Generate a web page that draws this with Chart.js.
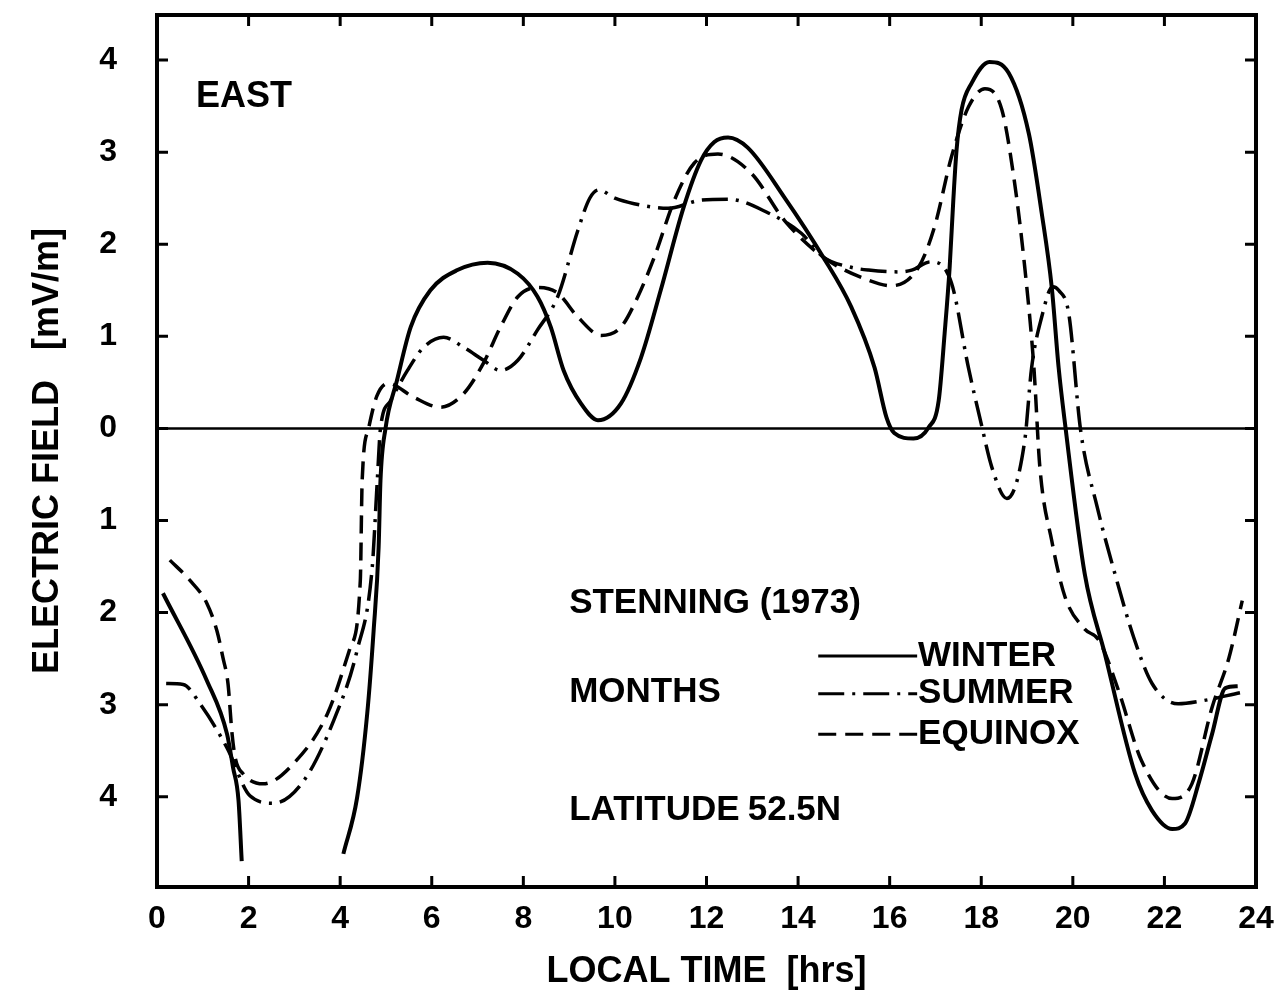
<!DOCTYPE html>
<html>
<head>
<meta charset="utf-8">
<script src="https://cdn.jsdelivr.net/npm/chart.js@4.4.1/dist/chart.umd.min.js"></script>
<style>
  html, body { margin: 0; padding: 0; background: #fff; }
  #wrap { width: 1286px; height: 1004px; }
</style>
</head>
<body>
<div id="wrap"><canvas id="chart" width="1286" height="1004"></canvas></div>
<script>
// axis ticks
const xTicks = [0, 2, 4, 6, 8, 10, 12, 14, 16, 18, 20, 22, 24];
const yTicks = [-4, -3, -2, -1, 0, 1, 2, 3, 4];

// WINTER (solid) - null breaks the curve between 2 and 4 hrs
const winterTime = [0.13, 1.09, 1.53, 1.66, 1.78, 1.85, 3.0,
  4.07, 4.37, 4.59, 4.73, 4.84, 4.88, 4.99, 5.24, 5.54, 5.97, 6.56, 7.22, 7.88, 8.31, 8.6, 8.88,
  9.26, 9.63, 10.13, 10.57, 11.0, 11.5, 11.88, 12.17, 12.47, 12.9, 13.7, 14.55, 15.16, 15.67,
  15.93, 16.1, 16.52, 16.85, 17.07, 17.2, 17.31, 17.39, 17.46, 17.57, 17.79, 18.18, 18.6, 19.04,
  19.32, 19.54, 19.69, 19.83, 20.26, 20.7, 21.36, 21.73, 22.17, 22.45, 22.76, 23.04, 23.33, 23.6];
const winterField = [-1.79, -2.74, -3.32, -3.68, -4.04, -4.7, null,
  -4.62, -4.01, -3.1, -2.2, -1.29, -0.57, 0.0, 0.52, 1.1, 1.5, 1.72, 1.8, 1.68, 1.43, 1.1, 0.63,
  0.27, 0.09, 0.27, 0.77, 1.5, 2.4, 2.91, 3.11, 3.16, 3.05, 2.51, 1.86, 1.32, 0.66,
  0.12, -0.05, -0.11, 0.01, 0.3, 1.03, 1.75, 2.48, 3.02, 3.46, 3.75, 3.98, 3.86, 3.2,
  2.34, 1.53, 0.66, 0.05, -1.58, -2.45, -3.75, -4.15, -4.35, -4.29, -3.83, -3.32, -2.82, -2.8];

// SUMMER (dash-dot)
const summerTime = [0.2, 0.57, 0.94, 1.53, 2.03, 2.55, 3.2, 3.86, 4.37, 4.7, 4.81, 4.88, 5.1,
  5.47, 5.82, 6.26, 6.7, 7.13, 7.5, 7.88, 8.31, 8.75, 9.19, 9.45, 9.65, 10.0, 10.42, 11.16,
  11.88, 12.47, 13.35, 14.07, 14.55, 15.16, 15.54, 16.2, 16.48, 16.9, 17.35, 17.72, 18.0,
  18.23, 18.56, 18.95, 19.1, 19.32, 19.56, 19.69, 19.91, 20.17, 20.53, 20.92, 21.33, 21.73,
  22.3, 22.8, 23.65];
const summerField = [-2.77, -2.78, -2.99, -3.47, -3.99, -4.07, -3.83, -3.17, -2.41, -1.51, -0.57, 0.0, 0.3,
  0.63, 0.88, 0.99, 0.88, 0.74, 0.63, 0.74, 1.07, 1.43, 2.15, 2.5, 2.59, 2.5, 2.44, 2.39,
  2.48, 2.49, 2.34, 2.12, 1.86, 1.75, 1.72, 1.70, 1.72, 1.81, 1.58, 0.66, 0.05,
  -0.42, -0.76, -0.13, 0.66, 1.21, 1.54, 1.5, 1.25, -0.02, -0.85, -1.58, -2.27, -2.77,
  -2.99, -2.96, -2.87];

// EQUINOX (dashed)
const equinoxTime = [0.28, 0.72, 1.09, 1.31, 1.44, 1.55, 1.64, 1.71, 1.88, 2.32, 2.98, 3.72, 4.22, 4.44,
  4.48, 4.62, 4.8, 5.05, 5.6, 6.19, 6.7, 7.13, 7.5, 7.88, 8.31, 8.75, 9.19, 9.7, 10.13, 10.5, 10.86,
  11.3, 11.73, 12.25, 12.98, 13.7, 14.55, 15.54, 16.04, 16.63, 16.98, 17.35, 17.72, 18.08, 18.45,
  18.73, 18.95, 19.15, 19.28, 19.54, 19.83, 20.26, 20.57, 21.0, 21.5, 22.17, 22.6, 23.04, 23.41, 23.7];
const equinoxField = [-1.43, -1.65, -1.9, -2.2, -2.49, -2.77, -3.32, -3.58, -3.75, -3.86, -3.64, -3.1, -2.38, -1.65,
  -0.57, 0.0, 0.35, 0.49, 0.34, 0.23, 0.38, 0.71, 1.1, 1.43, 1.53, 1.47, 1.21, 1.01, 1.1, 1.43, 1.86,
  2.48, 2.88, 2.98, 2.77, 2.26, 1.86, 1.61, 1.55, 1.75, 2.19, 2.95, 3.49, 3.69, 3.46,
  2.66, 1.75, 0.66, -0.42, -1.22, -1.83, -2.18, -2.3, -2.85, -3.61, -4.02, -3.86, -3.03, -2.49, -1.87];

const zeroTime = [0, 24];
const zeroField = [0, 0];

const pts = (xs, ys) => xs.map((t, i) => ({ x: t, y: ys[i] }));

const FONT = "'Liberation Sans', Arial, sans-serif";
const SUMMER_DASH = [26, 8, 3, 8];
const EQUINOX_DASH = [18, 9];

const lineStyle = {
  borderColor: '#000',
  borderWidth: 3.5,
  pointRadius: 0,
  fill: false,
  cubicInterpolationMode: 'monotone',
  spanGaps: false,
};

// frame, inward ticks on all four sides
const frame = {
  id: 'frame',
  afterDatasetsDraw(chart) {
    const { ctx, chartArea: a, scales: { x, y } } = chart;
    ctx.save();
    ctx.strokeStyle = '#000';
    ctx.setLineDash([]);
    ctx.lineWidth = 4;
    ctx.strokeRect(a.left, a.top, a.right - a.left, a.bottom - a.top);
    ctx.lineWidth = 3;
    const len = 11;
    ctx.beginPath();
    xTicks.forEach(v => {
      const px = x.getPixelForValue(v);
      ctx.moveTo(px, a.bottom); ctx.lineTo(px, a.bottom - len);
      ctx.moveTo(px, a.top); ctx.lineTo(px, a.top + len);
    });
    yTicks.forEach(v => {
      const py = y.getPixelForValue(v);
      ctx.moveTo(a.left, py); ctx.lineTo(a.left + len, py);
      ctx.moveTo(a.right, py); ctx.lineTo(a.right - len, py);
    });
    ctx.stroke();
    ctx.restore();
  }
};

// text labels and the line key inside the plot
const notes = {
  id: 'notes',
  afterDraw(chart) {
    const { ctx, scales: { x, y } } = chart;
    const put = (txt, tx, ty, size) => {
      ctx.font = 'bold ' + size + 'px ' + FONT;
      ctx.fillText(txt, x.getPixelForValue(tx), y.getPixelForValue(ty));
    };
    ctx.save();
    ctx.fillStyle = '#000';
    ctx.textAlign = 'left';
    ctx.textBaseline = 'middle';
    put('EAST', 0.85, 3.6, 36);
    put('STENNING (1973)', 9.0, -1.9, 35);
    put('MONTHS', 9.0, -2.87, 35);
    put('LATITUDE', 9.0, -4.15, 35);
    put('52.5N', 12.9, -4.15, 35);

    const key = [
      ['WINTER', -2.47, []],
      ['SUMMER', -2.88, SUMMER_DASH],
      ['EQUINOX', -3.32, EQUINOX_DASH],
    ];
    key.forEach(([label, ky, dash]) => {
      const py = y.getPixelForValue(ky);
      ctx.lineWidth = 3;
      ctx.setLineDash(dash);
      ctx.beginPath();
      ctx.moveTo(x.getPixelForValue(14.44), py);
      ctx.lineTo(x.getPixelForValue(16.6), py);
      ctx.stroke();
      ctx.setLineDash([]);
      put(label, 16.62, ky, 35);
    });
    ctx.restore();
  }
};

new Chart(document.getElementById('chart'), {
  type: 'line',
  data: {
    datasets: [
      { label: 'WINTER', data: pts(winterTime, winterField), ...lineStyle, borderWidth: 4 },
      { label: 'SUMMER', data: pts(summerTime, summerField), ...lineStyle, borderDash: SUMMER_DASH },
      { label: 'EQUINOX', data: pts(equinoxTime, equinoxField), ...lineStyle, borderDash: EQUINOX_DASH },
      { label: 'zero', data: pts(zeroTime, zeroField), borderColor: '#000', borderWidth: 2.5, pointRadius: 0, tension: 0 },
    ],
  },
  options: {
    responsive: false,
    devicePixelRatio: 1,
    animation: false,
    layout: { padding: { top: 15, right: 30, left: 0, bottom: 0 } },
    plugins: {
      legend: { display: false },
      tooltip: { enabled: false },
    },
    scales: {
      x: {
        type: 'linear',
        min: 0,
        max: 24,
        afterBuildTicks: s => { s.ticks = xTicks.map(v => ({ value: v })); },
        afterFit: s => { s.height = 117; s.paddingLeft = 0; s.paddingRight = 0; },
        grid: { display: false, drawTicks: false },
        border: { display: false },
        ticks: { color: '#000', padding: 13, maxRotation: 0, font: { family: FONT, size: 32, weight: 'bold' } },
        title: {
          display: true,
          text: 'LOCAL TIME  [hrs]',
          color: '#000',
          font: { family: FONT, size: 36, weight: 'bold' },
          padding: { top: 0, bottom: 10 },
        },
      },
      y: {
        type: 'linear',
        min: -4.98,
        max: 4.49,
        afterBuildTicks: s => { s.ticks = yTicks.map(v => ({ value: v })); },
        afterFit: s => { s.width = 157; s.paddingTop = 0; s.paddingBottom = 0; },
        grid: { display: false, drawTicks: false },
        border: { display: false },
        ticks: {
          color: '#000',
          padding: 40,
          font: { family: FONT, size: 32, weight: 'bold' },
          callback: v => String(Math.abs(v)),
        },
        title: {
          display: true,
          text: 'ELECTRIC FIELD   [mV/m]',
          color: '#000',
          font: { family: FONT, size: 36, weight: 'bold' },
          padding: { top: 26, bottom: 0 },
        },
      },
    },
  },
  plugins: [frame, notes],
});
</script>
</body>
</html>
